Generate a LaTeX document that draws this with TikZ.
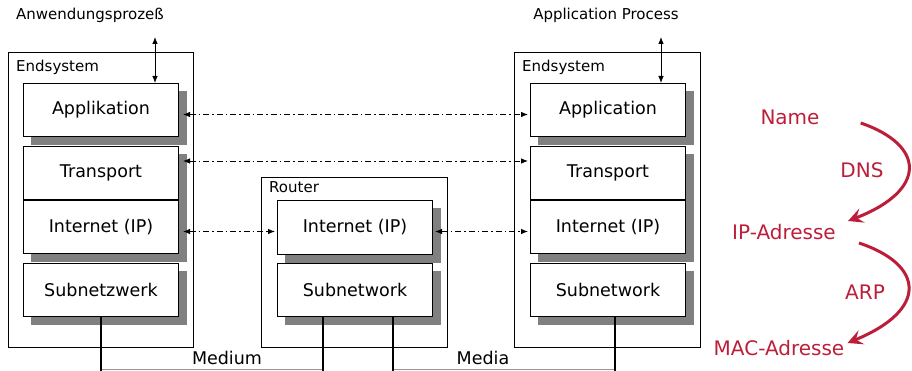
\documentclass[tikz,border=0pt]{standalone}
\usepackage{fontspec}
\setmainfont{DejaVu Sans}
\usetikzlibrary{arrows.meta,backgrounds,calc}
\definecolor{shade}{RGB}{128,128,128}
\definecolor{lookup}{RGB}{188,30,58}
\definecolor{wire}{RGB}{150,150,150}

\begin{document}
\begin{tikzpicture}[x=1pt,y=-1pt,
  system/.style={draw, line width=0.8pt, anchor=north west, inner sep=0pt},
  layer/.style={draw, fill=white, line width=1pt, anchor=north west,
    minimum width=155pt, minimum height=53pt, inner sep=0pt,
    font=\fontsize{17.5}{20}\selectfont},
  caption/.style={inner sep=0pt, font=\fontsize{15}{17}\selectfont},
  medlabel/.style={inner sep=0pt, font=\fontsize{17.5}{20}\selectfont},
  redlabel/.style={inner sep=0pt, text=lookup, font=\fontsize{20}{24}\selectfont},
  peer/.style={line width=0.8pt, dash pattern=on 6pt off 3pt on 1.5pt off 3pt,
    {Latex[length=7pt,width=5.5pt]}-{Latex[length=7pt,width=5.5pt]}},
  apiarrow/.style={line width=0.8pt, {Latex[length=7pt,width=5.5pt]}-{Latex[length=7pt,width=5.5pt]}},
  shadowbox/.style={fill=shade},
  cable/.style={line width=1.8pt},
  bus/.style={draw=wire, line width=1pt},
  resolve/.style={draw=lookup, line width=3pt,
    -{Stealth[length=15pt,width=15pt,inset=6pt]}}
]
\useasboundingbox (0,0) rectangle (912,371);

% ---------- left end system ----------
\node[system, minimum width=185pt, minimum height=295pt] (esL) at (8,52) {};
\node[caption, anchor=west] (esLlbl) at (16,67.5) {Endsystem};
\node[layer] (lapp) at (23,83) {Applikation};
\node[layer] (ltra) at (23,146) {Transport};
\node[layer] (lint) at (23,200) {Internet (IP)};
\node[layer] (lsub) at (23,263) {Subnetzwerk};
\node[caption] (anw) at (90,15) {Anwendungsprozeß};
\coordinate (anwend) at (155,37);

% ---------- router ----------
\node[system, minimum width=186pt, minimum height=170pt] (rt) at (261,177) {};
\node[caption, anchor=west] (rtlbl) at (269,187.5) {Router};
\node[layer] (rint) at (277,200.5) {Internet (IP)};
\node[layer] (rsub) at (277,263) {Subnetwork};

% ---------- right end system ----------
\node[system, minimum width=186pt, minimum height=295pt] (esR) at (514,52) {};
\node[caption, anchor=west] (esRlbl) at (522,67.5) {Endsystem};
\node[layer] (rapp) at (530,83) {Application};
\node[layer] (rtra) at (530,146) {Transport};
\node[layer] (rinn) at (530,200) {Internet (IP)};
\node[layer] (rsn) at (530,263) {Subnetwork};
\node[caption] (apl) at (606,15) {Application Process};
\coordinate (aplend) at (661,37);

% drop shadows behind the layer boxes
\begin{pgfonlayer}{background}
  \foreach \top/\bot in {lapp/lapp, ltra/lint, lsub/lsub, rint/rint, rsub/rsub,
                         rapp/rapp, rtra/rinn, rsn/rsn}{
    \fill[shadowbox] ($(\top.north west)+(8,8)$) rectangle ($(\bot.south east)+(8,8)$);
  }
\end{pgfonlayer}

% application interfaces
\draw[apiarrow] (anwend) -- (anwend |- lapp.north);
\draw[apiarrow] (aplend) -- (aplend |- rapp.north);

% peer-to-peer relations
\draw[peer] ($(lapp.east)+(4,4.5)$) -- ($(rapp.west)+(-2,4.5)$);
\draw[peer] ($(ltra.east)+(4,-12)$) -- ($(rtra.west)+(-2,-12)$);
\draw[peer] ($(lint.east)+(4,4.5)$) -- ($(rint.west)+(-2,4)$);
\draw[peer] ($(rint.east)+(2,4)$) -- ($(rinn.west)+(-2,4.5)$);

% physical media
\coordinate (m1) at (101,371);
\coordinate (m2) at (323,371);
\coordinate (m3) at (393,371);
\coordinate (m4) at (615,371);
\draw[bus] ($(m1)+(0,-2)$) -- ($(m2)+(0,-2)$);
\draw[bus] ($(m3)+(0,-2)$) -- ($(m4)+(0,-2)$);
\draw[cable] (m1 |- lsub.south) -- (m1);
\draw[cable] (m2 |- rsub.south) -- (m2);
\draw[cable] (m3 |- rsub.south) -- (m3);
\draw[cable] (m4 |- rsn.south) -- (m4);
\node[medlabel] (medium) at (227,358) {Medium};
\node[medlabel] (media) at (483,358) {Media};

% address resolution
\node[redlabel] (name) at (790,117) {Name};
\node[redlabel] (dns) at (862,170) {DNS};
\node[redlabel] (ip) at (784,232) {IP-Adresse};
\node[redlabel] (arp) at (865,292) {ARP};
\node[redlabel] (mac) at (779,348) {MAC-Adresse};
\draw[resolve] ($(name.east)+(41,6)$) .. controls (925,145) and (928,190) .. ($(ip.east)+(12,-11)$);
\draw[resolve] ($(ip.east)+(23,11)$) .. controls (925,265) and (928,310) .. ($(mac.east)+(3,-5)$);
\end{tikzpicture}
\end{document}
